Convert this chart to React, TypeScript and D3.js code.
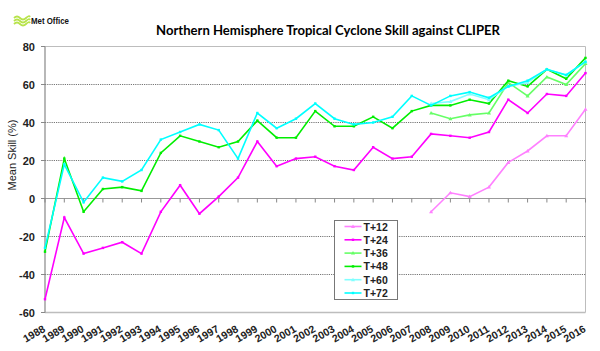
import React from "react";
import * as d3 from "d3";

const years = d3.range(1988, 2017);
const yTicks = [-60, -40, -20, 0, 20, 40, 60, 80];

const t12: (number | null)[] = [
  null, null, null, null, null, null, null, null, null, null,
  null, null, null, null, null, null, null, null, null, null,
  -7, 3, 1, 6, 19, 25, 33, 33, 47,
];
const t24: (number | null)[] = [
  -53, -10, -29, -26, -23, -29, -7, 7, -8, 1,
  11, 30, 17, 21, 22, 17, 15, 27, 21, 22,
  34, 33, 32, 35, 52, 45, 55, 54, 66,
];
const t36: (number | null)[] = [
  null, null, null, null, null, null, null, null, null, null,
  null, null, null, null, null, null, null, null, null, null,
  45, 42, 44, 45, 61, 54, 64, 60, 71,
];
const t48: (number | null)[] = [
  -28, 21, -7, 5, 6, 4, 24, 33, 30, 27,
  30, 41, 32, 32, 46, 38, 38, 43, 37, 46,
  49, 49, 52, 50, 62, 59, 68, 63, 74,
];
const t60: (number | null)[] = [
  null, null, null, null, null, null, null, null, null, null,
  null, null, null, null, null, null, null, null, null, null,
  50, 51, 55, 52, 59, 61, 68, 65, 72,
];
const t72: (number | null)[] = [
  -26, 18, -2, 11, 9, 15, 31, 35, 39, 36,
  21, 45, 37, 42, 50, 42, 39, 40, 43, 54,
  49, 54, 56, 53, 59, 62, 68, 65, 72,
];

const seriesNames = ["T+12", "T+24", "T+36", "T+48", "T+60", "T+72"];
const seriesData = [t12, t24, t36, t48, t60, t72];
const seriesColors = ["#ff80ff", "#ff00ff", "#66ff66", "#00ee00", "#80ffff", "#00ffff"];
const seriesMarker = ["tri", "sq", "tri", "sq", "tri", "sq"];

const W = 600;
const H = 351;
const left = 45;
const right = 585.5;
const top = 46.5;
const bottom = 312.5;

export default function App() {
  const x = d3.scaleLinear().domain([1988, 2016]).range([left, right]);
  const y = d3.scaleLinear().domain([-60, 80]).range([bottom, top]);

  const line = d3
    .line<number | null>()
    .defined((d) => d !== null)
    .x((_, i) => x(years[i]))
    .y((d) => y(d as number));

  const fontMain = "'Liberation Sans', Arial, sans-serif";

  const marker = (kind: string, cx: number, cy: number, color: string, key: string) =>
    kind === "tri" ? (
      <path
        key={key}
        d={`M${cx},${cy - 2}L${cx + 2},${cy + 1.5}L${cx - 2},${cy + 1.5}Z`}
        fill={color}
      />
    ) : (
      <rect key={key} x={cx - 1.2} y={cy - 1.2} width={2.4} height={2.4} fill={color} />
    );

  const legendX = 334.5;
  const legendY = 220.5;
  const legendRow = 13.3;

  return (
    <svg
      width={W}
      height={H}
      style={{ position: "absolute", left: 0, top: 0, display: "block", background: "#fff" }}
    >
      {/* Logo */}
      <g>
        {[0, 3, 6].map((o) => (
          <path
            key={o}
            d={`M14,${18 + o} q3,-3 6,0 t6,0 t4,-1`}
            fill="none"
            stroke="#b7e34a"
            strokeWidth={1.8}
          />
        ))}
        <text
          x={31}
          y={23.5}
          fontFamily={fontMain}
          fontWeight="bold"
          fontSize={8.5}
          fill="#111"
          textLength={38}
          lengthAdjust="spacingAndGlyphs"
        >
          Met Office
        </text>
      </g>

      {/* Title */}
      <text
        x={156}
        y={35}
        fontFamily="Lato, 'Open Sans', sans-serif"
        fontWeight="bold"
        fontSize={14}
        fill="#000"
        textLength={344}
        lengthAdjust="spacingAndGlyphs"
      >
        Northern Hemisphere Tropical Cyclone Skill against CLIPER
      </text>

      {/* Plot frame */}
      <line x1={left} x2={right} y1={top} y2={top} stroke="#bdbdbd" strokeWidth={1} />
      <line x1={right} x2={right} y1={top} y2={bottom} stroke="#bdbdbd" strokeWidth={1} />
      <line x1={left} x2={right} y1={bottom} y2={bottom} stroke="#bdbdbd" strokeWidth={1.5} />

      {/* Gridlines */}
      {yTicks
        .filter((t) => t !== 0 && t !== 80 && t !== -60)
        .map((t) => (
          <line
            key={t}
            x1={left}
            x2={right}
            y1={y(t)}
            y2={y(t)}
            stroke="#777"
            strokeWidth={1}
            strokeDasharray="1.2,1"
          />
        ))}

      {/* Zero axis */}
      <line x1={left} x2={right} y1={y(0)} y2={y(0)} stroke="#999" strokeWidth={1.2} />
      {years.map((yr) => (
        <line
          key={yr}
          x1={x(yr)}
          x2={x(yr)}
          y1={y(0)}
          y2={y(0) + 4}
          stroke="#888"
          strokeWidth={1}
        />
      ))}

      {/* Y axis */}
      <line x1={left} x2={left} y1={top} y2={bottom} stroke="#888" strokeWidth={1.2} />
      {yTicks.map((t) => (
        <g key={t}>
          <line x1={left - 4} x2={left} y1={y(t)} y2={y(t)} stroke="#888" strokeWidth={1} />
          <text
            x={35}
            y={y(t) + 4}
            textAnchor="end"
            fontFamily={fontMain}
            fontWeight="bold"
            fontSize={11}
            fill="#222"
          >
            {t}
          </text>
        </g>
      ))}

      <text
        transform={`translate(16, ${155}) rotate(-90)`}
        textAnchor="middle"
        fontFamily={fontMain}
        fontSize={11}
        fill="#222"
      >
        Mean Skill (%)
      </text>

      {/* X labels */}
      {years.map((yr) => (
        <text
          key={yr}
          transform={`translate(${x(yr) + 1}, ${331}) rotate(-30)`}
          textAnchor="end"
          fontFamily={fontMain}
          fontWeight="bold"
          fontSize={10.5}
          fill="#222"
        >
          {yr}
        </text>
      ))}

      {/* Series */}
      {seriesData.map((data, si) => (
        <g key={seriesNames[si]}>
          <path
            d={line(data) || ""}
            fill="none"
            stroke={seriesColors[si]}
            strokeWidth={1.6}
          />
          {data.map((d, i) =>
            d === null
              ? null
              : marker(seriesMarker[si], x(years[i]), y(d), seriesColors[si], `${si}-${i}`)
          )}
        </g>
      ))}

      {/* Legend */}
      <rect
        x={legendX}
        y={legendY}
        width={63}
        height={79}
        fill="#fff"
        stroke="#777"
        strokeWidth={1}
      />
      {seriesNames.map((name, i) => {
        const ly = legendY + 6 + i * legendRow;
        return (
          <g key={name}>
            <line
              x1={legendX + 10}
              x2={legendX + 27}
              y1={ly}
              y2={ly}
              stroke={seriesColors[i]}
              strokeWidth={1.6}
            />
            {marker(seriesMarker[i], legendX + 18.5, ly, seriesColors[i], `lg${i}`)}
            <text
              x={legendX + 29}
              y={ly + 4}
              fontFamily={fontMain}
              fontWeight="bold"
              fontSize={10.5}
              fill="#222"
            >
              {name}
            </text>
          </g>
        );
      })}
    </svg>
  );
}
